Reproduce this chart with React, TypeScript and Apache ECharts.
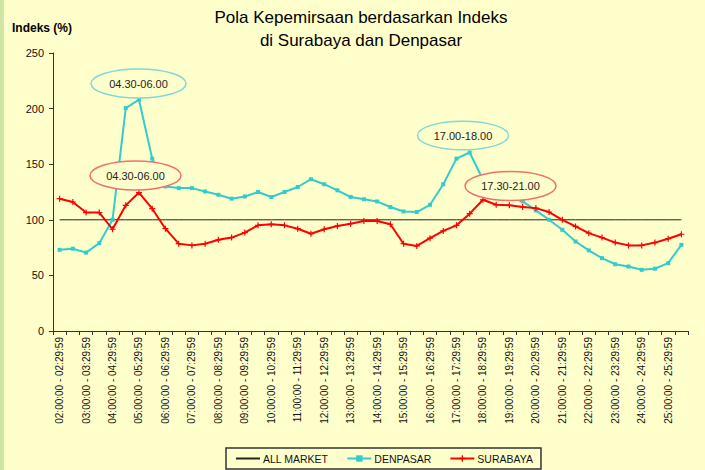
import React, { useEffect, useRef } from "react";
import * as echarts from "echarts";

const CATEGORIES = [
  "02:00:00 - 02:29:59", "02:30:00 - 02:59:59",
  "03:00:00 - 03:29:59", "03:30:00 - 03:59:59",
  "04:00:00 - 04:29:59", "04:30:00 - 04:59:59",
  "05:00:00 - 05:29:59", "05:30:00 - 05:59:59",
  "06:00:00 - 06:29:59", "06:30:00 - 06:59:59",
  "07:00:00 - 07:29:59", "07:30:00 - 07:59:59",
  "08:00:00 - 08:29:59", "08:30:00 - 08:59:59",
  "09:00:00 - 09:29:59", "09:30:00 - 09:59:59",
  "10:00:00 - 10:29:59", "10:30:00 - 10:59:59",
  "11:00:00 - 11:29:59", "11:30:00 - 11:59:59",
  "12:00:00 - 12:29:59", "12:30:00 - 12:59:59",
  "13:00:00 - 13:29:59", "13:30:00 - 13:59:59",
  "14:00:00 - 14:29:59", "14:30:00 - 14:59:59",
  "15:00:00 - 15:29:59", "15:30:00 - 15:59:59",
  "16:00:00 - 16:29:59", "16:30:00 - 16:59:59",
  "17:00:00 - 17:29:59", "17:30:00 - 17:59:59",
  "18:00:00 - 18:29:59", "18:30:00 - 18:59:59",
  "19:00:00 - 19:29:59", "19:30:00 - 19:59:59",
  "20:00:00 - 20:29:59", "20:30:00 - 20:59:59",
  "21:00:00 - 21:29:59", "21:30:00 - 21:59:59",
  "22:00:00 - 22:29:59", "22:30:00 - 22:59:59",
  "23:00:00 - 23:29:59", "23:30:00 - 23:59:59",
  "24:00:00 - 24:29:59", "24:30:00 - 24:59:59",
  "25:00:00 - 25:29:59", "25:30:00 - 25:59:59",
];

const ALL_MARKET = [
  100, 100, 100, 100, 100, 100, 100, 100, 100, 100, 100, 100,
  100, 100, 100, 100, 100, 100, 100, 100, 100, 100, 100, 100,
  100, 100, 100, 100, 100, 100, 100, 100, 100, 100, 100, 100,
  100, 100, 100, 100, 100, 100, 100, 100, 100, 100, 100, 100,
];

const DENPASAR = [
  73, 74, 70.5, 79, 100, 200.5, 208, 155, 130, 128.5, 128.5, 125.5,
  122.5, 119, 121, 125, 120.5, 125, 129.5, 136.5, 132, 126.5, 120.5, 118.5,
  116.5, 111.5, 107.5, 107, 113.5, 132, 155, 160.5, 136, 126, 121, 116.5,
  108.5, 100, 91, 80.5, 72.5, 65.5, 60, 58, 55, 56, 61, 77.5,
];

const SURABAYA = [
  119, 116, 106.5, 106.5, 91.5, 113, 124.5, 110, 92, 78.5, 77, 78.5,
  82, 84, 88.5, 95, 96, 95, 92, 87.5, 91.5, 94.5, 96.5, 99,
  99, 96, 78.5, 76.5, 83.5, 90, 95, 105.5, 118, 113.5, 113, 111.5,
  110.5, 107, 100, 94, 88, 84, 79.5, 77, 77, 79.5, 83, 87,
];

const SERIES_NAMES = ["ALL MARKET", "DENPASAR", "SURABAYA"];
const TITLE_LINES = ["Pola Kepemirsaan berdasarkan Indeks", "di Surabaya dan Denpasar"];
const Y_NAME = "Indeks (%)";
const CALLOUT_TEXTS = ["04.30-06.00", "04.30-06.00", "17.00-18.00", "17.30-21.00"];

const BG = "#FFFFCC";
const CYAN = "#33CCCC";
const RED = "#FF0000";
const FONT = "'Liberation Sans', Arial, sans-serif";
const PLUS = "path://M2,0L3,0L3,2L5,2L5,3L3,3L3,5L2,5L2,3L0,3L0,2L2,2Z";

function callout(text: string, cx: number, cy: number, rx: number, ry: number, stroke: string) {
  return [
    {
      type: "ellipse",
      z: 100,
      shape: { cx, cy, rx, ry },
      style: { fill: BG, stroke, lineWidth: 1.5 },
    },
    {
      type: "text",
      z: 101,
      x: cx,
      y: cy,
      style: {
        text,
        fill: "#222",
        font: `11px ${FONT}`,
        textAlign: "center",
        textVerticalAlign: "middle",
        align: "center",
        verticalAlign: "middle",
      },
    },
  ];
}

function textEl(text: string, x: number, y: number, font: string, align: string) {
  return {
    type: "text",
    x,
    y,
    style: {
      text,
      fill: "#000",
      font,
      textAlign: align,
      textVerticalAlign: "middle",
      align,
      verticalAlign: "middle",
    },
  };
}

export default function App() {
  const ref = useRef<HTMLDivElement>(null);

  useEffect(() => {
    const chart = echarts.init(ref.current!, null, { renderer: "svg" });
    chart.setOption({
      animation: false,
      backgroundColor: BG,
      textStyle: { fontFamily: FONT },
      grid: { left: 53, right: 17, top: 53, bottom: 139, containLabel: false },
      legend: {
        data: [
          { name: SERIES_NAMES[0], itemStyle: { opacity: 0 } },
          { name: SERIES_NAMES[1] },
          { name: SERIES_NAMES[2] },
        ],
        left: 226,
        top: 448,
        orient: "horizontal",
        itemWidth: 24,
        itemHeight: 8,
        itemGap: 18,
        padding: [5, 8, 5, 9],
        borderColor: "#333",
        borderWidth: 1.5,
        backgroundColor: BG,
        textStyle: { fontSize: 10.5, color: "#111", fontFamily: FONT, padding: [0, 0, 0, -2] },
      },
      xAxis: {
        type: "category",
        data: CATEGORIES,
        boundaryGap: true,
        axisLine: { lineStyle: { color: "#333", width: 1 } },
        axisTick: { show: true, interval: 0, length: 4, lineStyle: { color: "#333" } },
        axisLabel: {
          interval: 1,
          rotate: 90,
          margin: 6,
          fontSize: 10,
          color: "#111",
          fontFamily: FONT,
        },
        splitLine: { show: false },
      },
      yAxis: {
        type: "value",
        min: 0,
        max: 250,
        interval: 50,
        axisLine: { show: true, lineStyle: { color: "#333", width: 1 } },
        axisTick: { show: true, length: 4, lineStyle: { color: "#333" } },
        axisLabel: { fontSize: 11, color: "#111", margin: 9, fontFamily: FONT },
        splitLine: { show: false },
      },
      series: [
        {
          name: SERIES_NAMES[0],
          type: "line",
          data: ALL_MARKET,
          symbol: "none",
          showSymbol: false,
          lineStyle: { color: "#222", width: 1 },
          itemStyle: { color: "#222" },
          z: 2,
        },
        {
          name: SERIES_NAMES[1],
          type: "line",
          data: DENPASAR,
          symbol: "rect",
          symbolSize: 4,
          lineStyle: { color: CYAN, width: 2 },
          itemStyle: { color: CYAN },
          z: 3,
        },
        {
          name: SERIES_NAMES[2],
          type: "line",
          data: SURABAYA,
          symbol: PLUS,
          symbolSize: 6,
          lineStyle: { color: RED, width: 2 },
          itemStyle: { color: RED },
          z: 4,
        },
      ],
      graphic: [
        { type: "rect", z: 0, shape: { x: 0, y: 0, width: 4, height: 470 }, style: { fill: "#CFE5A6" } },
        textEl(TITLE_LINES[0], 361, 17, `17px ${FONT}`, "center"),
        textEl(TITLE_LINES[1], 361, 40, `17px ${FONT}`, "center"),
        textEl(Y_NAME, 12, 28, `bold 12px ${FONT}`, "left"),
        ...callout(CALLOUT_TEXTS[0], 138.5, 83.5, 47.5, 14.5, "#80D8D8"),
        ...callout(CALLOUT_TEXTS[1], 135.5, 175.5, 45.5, 14.5, "#F07070"),
        ...callout(CALLOUT_TEXTS[2], 463, 135.5, 45.5, 14.3, "#80D8D8"),
        ...callout(CALLOUT_TEXTS[3], 510.5, 186, 45.5, 14.5, "#F07070"),
      ],
    });
    return () => chart.dispose();
  }, []);

  return (
    <div
      ref={ref}
      style={{ position: "absolute", left: 0, top: 0, width: 705, height: 470 }}
    />
  );
}
